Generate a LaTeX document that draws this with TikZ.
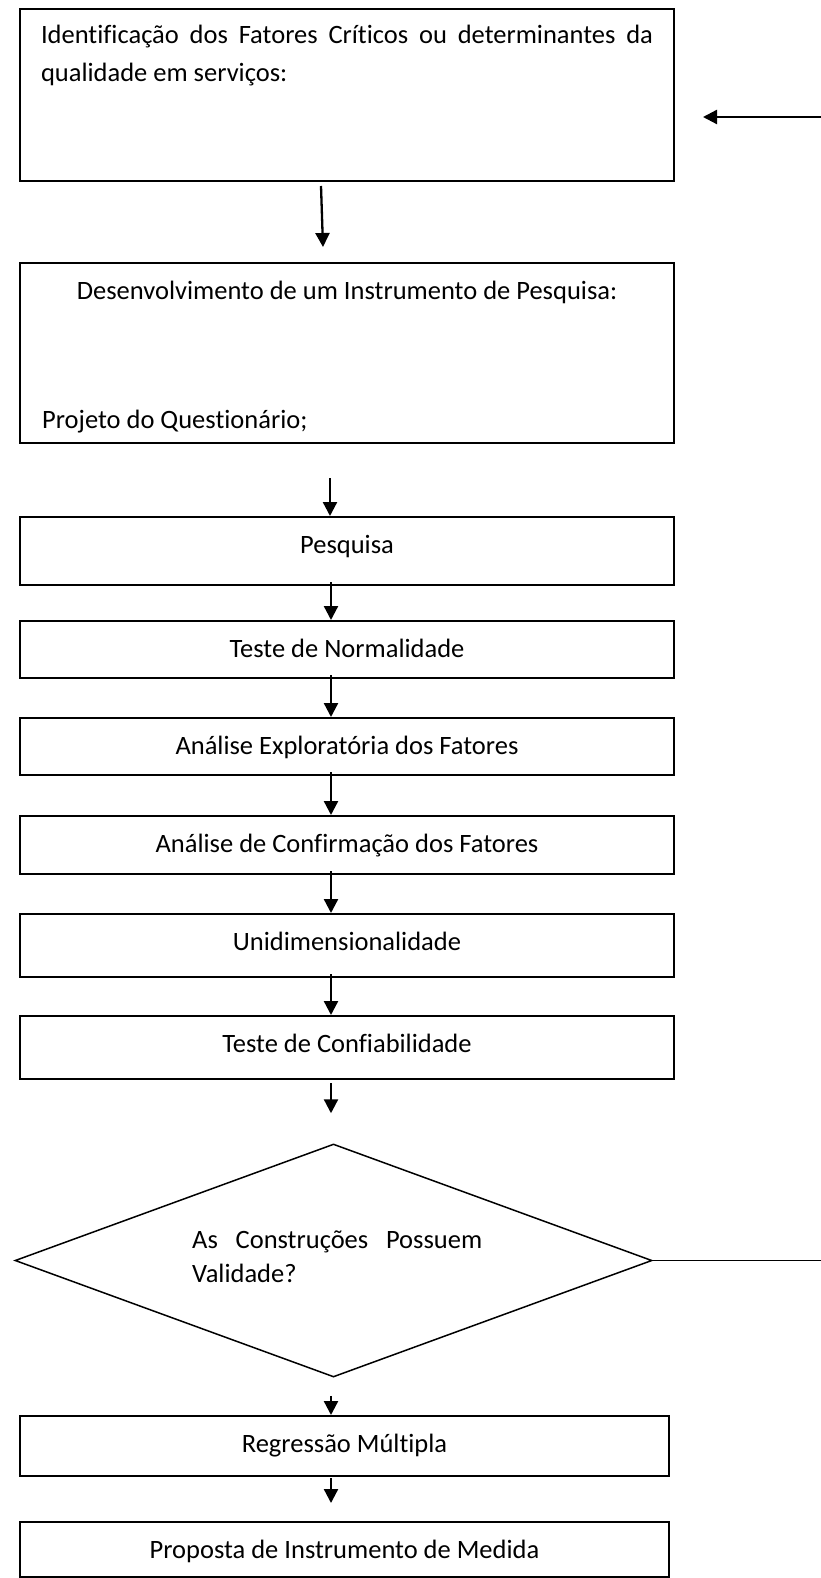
\documentclass[tikz,border=0pt]{standalone}
\usepackage{fontspec}
\setmainfont{Carlito}[Ligatures=NoCommon]
\usepackage{tikz}
\usetikzlibrary{shapes.geometric,arrows.meta}

\begin{document}
\begin{tikzpicture}[x=1pt, y=-1pt,
		every node/.style={font=\fontsize{26.5}{38}\selectfont},
		caixa/.style={draw, line width=1.9pt, inner sep=0pt, outer sep=0pt, anchor=north, minimum width=654pt, text height=36.5pt},
		seta/.style={-{Triangle[length=14pt,width=14pt]}, line width=2.3pt}]
			\useasboundingbox (0,0) rectangle (821,1578);

			% Make nodes
			\node[caixa, anchor=north west, text width=612pt, inner xsep=21pt, align=justify, text height=35pt, text depth=137pt] (ident) at (20,9) {Identificação dos Fatores Críticos ou determinantes da\linebreak qualidade em serviços:};

			\node[caixa, text depth=143.5pt] (desenv) at (347,263) {Desenvolvimento de um Instrumento de Pesquisa:};
			\node[anchor=base west, inner sep=0pt] (projeto) at ([xshift=22pt, yshift=15pt]desenv.south west) {Projeto do Questionário;};

			\foreach \nome/\x/\y/\w/\d/\texto in {
				pesq/347/517/654/31.5/Pesquisa,
				normal/347/621/654/20.5/Teste de Normalidade,
				explor/347/718/654/20.5/Análise Exploratória dos Fatores,
				confirm/347/816/654/21.5/Análise de Confirmação dos Fatores,
				unidim/347/914/654/26.5/Unidimensionalidade,
				confiab/347/1016/654/26.5/Teste de Confiabilidade,
				regress/344.5/1416/649/23.5/Regressão Múltipla,
				proposta/344.5/1522/649/18.5/Proposta de Instrumento de Medida} {
				\node[caixa, minimum width=\w pt, text depth=\d pt] (\nome) at (\x,\y) {\texto};
			}

			\node[draw, diamond, line width=1.5pt, inner sep=0pt, minimum width=637pt, minimum height=233pt] (valid) at (333.5,1260.5) {};
			\node[anchor=base west, inner sep=0pt, text width=290pt, align=justify, font=\fontsize{26.5}{34}\selectfont] (pergunta) at (192,1248) {As Construções Possuem\linebreak Validade?};

			\coordinate (retorno) at (821,117);
			\coordinate (volta) at (703,117);
			\coordinate (saida) at (821,1260.5);

			% Make arrows
			\draw[seta] ([xshift=-26pt, yshift=-5pt]ident.south) -- ([xshift=-24pt, yshift=16pt]desenv.north);
			\draw[seta] ([xshift=-17pt, yshift=-35pt]desenv.south) -- ([xshift=-17pt, yshift=1pt]pesq.north);

			\foreach \a/\b in {pesq/normal, normal/explor, explor/confirm, confirm/unidim, unidim/confiab} {
				\draw[seta] ([xshift=-16pt, yshift=3pt]\a.south) -- ([xshift=-16pt, yshift=1pt]\b.north);
			}

			\draw[seta] ([xshift=-16pt, yshift=-4pt]confiab.south) -- ([xshift=-2.5pt, yshift=30pt]valid.north);
			\draw[seta] ([xshift=-2.5pt, yshift=-18pt]valid.south) -- ([xshift=-13.5pt, yshift=1pt]regress.north);
			\draw[seta] ([xshift=-13.5pt, yshift=-2pt]regress.south) -- ([xshift=-13.5pt, yshift=19pt]proposta.north);

			\draw[seta] (retorno) -- (volta);
			\draw[line width=1.5pt] (valid.east) -- (saida);
		\end{tikzpicture}
\end{document}
